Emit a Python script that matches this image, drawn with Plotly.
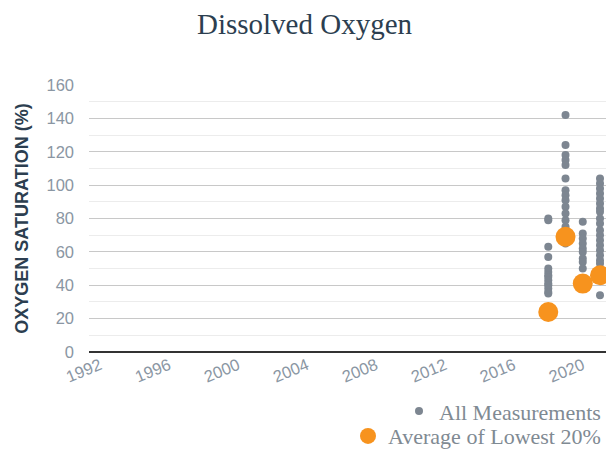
import plotly.graph_objects as go

# Data
years_all = ([2018] * 14 + [2019] * 16 + [2020] * 9 + [2021] * 19)
values_all = [
    # 2018
    80, 79, 63, 57, 50, 48, 46, 45, 43, 41, 40, 38, 36, 35,
    # 2019
    142, 124, 118, 115, 112, 104, 97, 94, 91, 87, 83, 79, 75, 71, 68, 65,
    # 2020
    78, 71, 68, 65, 62, 60, 56, 54, 50,
    # 2021
    104, 101, 98, 95, 92, 89, 86, 84, 80, 77, 73, 70, 67, 64, 61, 58, 55, 53, 34,
]
years_avg = [2018, 2019, 2020, 2021]
values_avg = [24, 69, 41, 46]
x_ticks = [1992, 1996, 2000, 2004, 2008, 2012, 2016, 2020]

GRAY = "#7d8691"
ORANGE = "#f7931e"

fig = go.Figure()
fig.add_trace(go.Scatter(
    x=years_all, y=values_all, mode="markers", name="All Measurements",
    marker=dict(color=GRAY, size=8), legend="legend", showlegend=True,
))
fig.add_trace(go.Scatter(
    x=years_avg, y=values_avg, mode="markers", name="Average of Lowest 20%",
    marker=dict(color=ORANGE, size=20), legend="legend2", showlegend=True,
    cliponaxis=False,
))

legend_font = dict(family="Liberation Serif, Times New Roman, serif", size=22, color="#7f8a93")
fig.update_layout(
    width=598, height=442,
    margin=dict(l=81, r=0, t=77, b=98, autoexpand=False),
    showlegend=True,
    paper_bgcolor="white", plot_bgcolor="white",
    title=dict(text="Dissolved Oxygen", x=0.4958, xanchor="center", y=0.965, yanchor="middle",
               font=dict(family="Liberation Serif, Times New Roman, serif", size=29, color="#2c3e50")),
    xaxis=dict(range=[1991.362, 2021.348], tickvals=x_ticks, tickangle=-22,
               showgrid=False, zeroline=False, showline=False,
               tickfont=dict(family="Liberation Sans, Arial, sans-serif", size=16.5, color="#8a96a3")),
    yaxis=dict(range=[0, 160], tick0=0, dtick=20, showgrid=True, gridcolor="#c8c8c8", gridwidth=1,
               minor=dict(dtick=10, showgrid=True, gridcolor="#ececec", gridwidth=1),
               zeroline=True, zerolinecolor="#333333", zerolinewidth=2,
               ticks="", ticklabelstandoff=14,
               tickfont=dict(family="Liberation Sans, Arial, sans-serif", size=16.5, color="#8a96a3"),
               title=dict(text="<b>OXYGEN SATURATION (%)</b>", standoff=13,
                          font=dict(family="Liberation Sans, Arial, sans-serif", size=18, color="#2c3e50"))),
    legend=dict(x=1.0, xanchor="right", y=-0.222, yanchor="middle", font=legend_font,
                bgcolor="rgba(0,0,0,0)", itemsizing="trace"),
    legend2=dict(x=1.0, xanchor="right", y=-0.315, yanchor="middle", font=legend_font,
                 bgcolor="rgba(0,0,0,0)", itemsizing="trace"),
)

fig.write_html("out.html")
